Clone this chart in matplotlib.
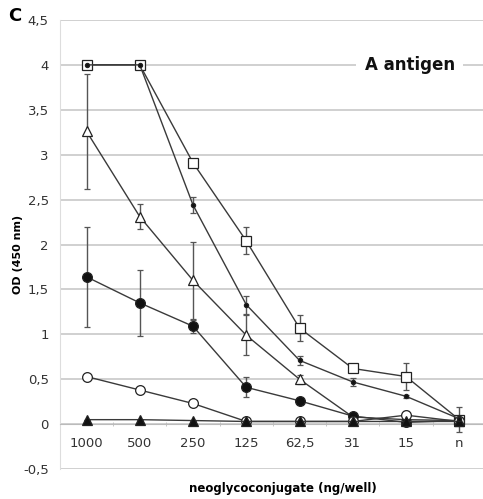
import matplotlib.pyplot as plt

# concentrations (ng/well), last one is "n" (negative control)
conc = ['1000', '500', '250', '125', '62,5', '31', '15', 'n']

sq_open = [4.0, 4.0, 2.91, 2.04, 1.07, 0.62, 0.53, 0.05]
sq_err = [0, 0, 0, 0.15, 0.14, 0.03, 0.15, 0.14]
dot_small = [4.0, 4.0, 2.44, 1.33, 0.71, 0.47, 0.31, 0.06]
dot_err = [0, 0, 0.09, 0.1, 0.05, 0.04, 0.02, 0.02]
tri_open = [3.26, 2.31, 1.6, 0.99, 0.5, 0.08, 0.05, 0.04]
tri_err = [0.64, 0.14, 0.43, 0.22, 0.05, 0.02, 0.02, 0.02]
circ_fill = [1.64, 1.35, 1.09, 0.41, 0.26, 0.09, 0.02, 0.04]
circ_err = [0.56, 0.37, 0.07, 0.11, 0.02, 0.02, 0.02, 0.02]
circ_open = [0.53, 0.38, 0.23, 0.03, 0.03, 0.03, 0.1, 0.03]
circ_open_err = [0.01, 0.01, 0.01, 0.01, 0.01, 0.01, 0.05, 0.02]
tri_fill = [0.05, 0.05, 0.04, 0.03, 0.03, 0.03, 0.03, 0.03]

yticks = [-0.5, 0, 0.5, 1, 1.5, 2, 2.5, 3, 3.5, 4, 4.5]
ytick_labels = ['-0,5', '0', '0,5', '1', '1,5', '2', '2,5', '3', '3,5', '4', '4,5']

fig = plt.figure(figsize=(4.83, 4.99), dpi=100)
ax = fig.add_axes([0.124, 0.06, 0.882, 0.9])

x = list(range(len(conc)))
lc = '#3a3a3a'
ec = '#555555'

def series(vals, errs, marker, ms, mfc):
    ax.errorbar(x, vals, yerr=errs, color=lc, lw=1.0, marker=marker, ms=ms,
                mfc=mfc, mec='#222222', mew=0.9, ecolor=ec, elinewidth=1.0,
                capsize=2.5, capthick=1.0, zorder=3)

series(sq_open, sq_err, 's', 6.5, 'white')
series(tri_open, tri_err, '^', 7.5, 'white')
series(circ_fill, circ_err, 'o', 7, '#111111')
series(circ_open, circ_open_err, 'o', 7, 'white')
series(tri_fill, [0] * 8, '^', 7, '#111111')
series(dot_small, dot_err, 'o', 3, '#111111')

ax.set_xlim(-0.5, 7.5)
ax.set_ylim(-0.5, 4.5)
ax.set_yticks(yticks)
ax.set_yticklabels(ytick_labels)
ax.set_xticks(x)
ax.set_xticklabels(conc)
ax.set_xticks([i + 0.5 for i in range(7)], minor=True)

for v in yticks:
    ax.axhline(v, color='#c8c8c8', lw=1.2, zorder=1)

for s in ['top', 'right']:
    ax.spines[s].set_visible(False)
ax.spines['left'].set_color('#dddddd')
ax.spines['bottom'].set_position(('data', 0))
ax.spines['bottom'].set_color('#bbbbbb')

ax.tick_params(axis='y', length=0, pad=8, labelsize=9.5, labelcolor='#333333')
ax.tick_params(axis='x', which='major', length=0, pad=9, labelsize=9.5, labelcolor='#333333')
ax.tick_params(axis='x', which='minor', length=3, color='#bbbbbb', direction='inout')

fig.text(0.037, 0.49, 'OD (450 nm)', fontsize=8, fontweight='bold', rotation=90,
         ha='center', va='center')
fig.text(0.585, 0.015, 'neoglycoconjugate (ng/well)', fontsize=8.5, fontweight='bold', ha='center')
fig.text(0.017, 0.958, 'C', fontsize=13, fontweight='bold')

ax.text(6.07, 4.0, 'A antigen', fontsize=12, fontweight='bold', ha='center', va='center',
        color='#111111', bbox=dict(facecolor='white', edgecolor='none', pad=6), zorder=4)

fig.savefig('out.png', dpi=100)
